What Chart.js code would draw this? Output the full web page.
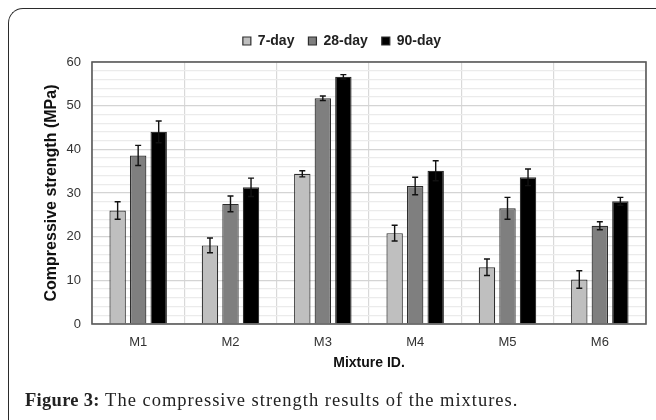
<!DOCTYPE html>
<html>
<head>
<meta charset="utf-8">
<script src="https://cdn.jsdelivr.net/npm/chart.js@4/dist/chart.umd.min.js"></script>
<style>
  html, body { margin: 0; padding: 0; background: #fff; width: 656px; height: 420px; overflow: hidden; }
  #frame { position: absolute; left: 8px; top: 8px; width: 720px; height: 480px;
           border-top: 1.5px solid #2b2b2b; border-left: 1.5px solid #2b2b2b; border-top-left-radius: 15px; }
  #wrap { position: absolute; left: 0; top: 0; width: 656px; height: 420px; }
  #caption { position: absolute; left: 25px; top: 390px; font-family: "Liberation Serif", serif;
             font-size: 18.5px; letter-spacing: 1px; line-height: 20px; color: #222; white-space: nowrap; }
  #caption b { font-weight: bold; letter-spacing: 0.3px; }
</style>
</head>
<body>
<div id="frame"></div>
<div id="wrap"><canvas id="c" width="656" height="420"></canvas></div>
<div id="caption"><b>Figure 3:</b> The compressive strength results of the mixtures.</div>
<script>
const categories = ['M1', 'M2', 'M3', 'M4', 'M5', 'M6'];
const seriesNames = ['7-day', '28-day', '90-day'];
const day7  = [26.0, 18.0, 34.4, 20.8, 13.0, 10.2];
const day28 = [38.6, 27.5, 51.7, 31.6, 26.5, 22.5];
const day90 = [44.0, 31.3, 56.6, 35.1, 33.6, 28.1];
const err7  = [2.0, 1.7, 0.7, 1.8, 1.9, 2.0];
const err28 = [2.3, 1.8, 0.5, 2.0, 2.5, 0.9];
const err90 = [2.5, 2.1, 0.5, 2.3, 1.9, 0.9];
const yTickLabels = [0, 10, 20, 30, 40, 50, 60];

const colors = ['#bfbfbf', '#7f7f7f', '#000000'];
const values = [day7, day28, day90];
const errors = [err7, err28, err90];

const errorBarPlugin = {
  id: 'errorBars',
  afterDatasetsDraw(chart) {
    const ctx = chart.ctx;
    const y = chart.scales.y;
    ctx.save();
    ctx.strokeStyle = '#111';
    ctx.lineWidth = 1.4;
    chart.data.datasets.forEach((ds, di) => {
      const meta = chart.getDatasetMeta(di);
      meta.data.forEach((bar, i) => {
        const v = ds.data[i], e = ds.errors[i];
        const yt = y.getPixelForValue(v + e), yb = y.getPixelForValue(v - e);
        const x = bar.x, cap = 3;
        ctx.beginPath();
        ctx.moveTo(x, yt); ctx.lineTo(x, yb);
        ctx.moveTo(x - cap, yt); ctx.lineTo(x + cap, yt);
        ctx.moveTo(x - cap, yb); ctx.lineTo(x + cap, yb);
        ctx.stroke();
      });
    });
    ctx.restore();
  }
};

const frameBoxPlugin = {
  id: 'frameBox',
  afterDatasetsDraw(chart) {
    const a = chart.chartArea, ctx = chart.ctx;
    ctx.save();
    ctx.strokeStyle = '#5a5a5a';
    ctx.lineWidth = 1.6;
    ctx.strokeRect(a.left, a.top, a.right - a.left, a.bottom - a.top);
    ctx.restore();
  }
};

new Chart(document.getElementById('c'), {
  type: 'bar',
  data: {
    labels: categories,
    datasets: seriesNames.map((n, k) => ({
      label: n,
      data: values[k],
      errors: errors[k],
      backgroundColor: colors[k],
      borderColor: '#2e2e2e',
      borderWidth: 1.2,
      categoryPercentage: 0.667,
      barPercentage: 0.8
    }))
  },
  options: {
    responsive: false,
    animation: false,
    devicePixelRatio: 1,
    layout: { padding: { left: 38, right: 10, top: 20, bottom: 48 } },
    plugins: {
      tooltip: { enabled: false },
      subtitle: { display: true, text: '', weight: 500, padding: 0, font: { size: 4, lineHeight: 1 } },
      legend: {
        position: 'top',
        labels: {
          boxWidth: 8, boxHeight: 8, padding: 14,
          color: '#222',
          font: { family: 'Liberation Sans, Arial', size: 14, weight: 'bold' }
        }
      }
    },
    scales: {
      x: {
        grid: { display: true, offset: true, color: '#d9d9d9', lineWidth: 1.2, drawTicks: false },
        border: { display: false },
        ticks: { color: '#333', padding: 11, font: { family: 'Liberation Sans, Arial', size: 13 } },
        title: { display: true, text: 'Mixture ID.', color: '#111', padding: 0,
                 font: { family: 'Liberation Sans, Arial', size: 14, weight: 'bold' } },
        afterFit(s) { s.height = 48; }
      },
      y: {
        min: 0, max: 60,
        grid: {
          drawTicks: false,
          color: c => (c.tick && yTickLabels.includes(c.tick.value)) ? '#d4d4d4' : '#ebebeb',
          lineWidth: 1.2
        },
        border: { display: false },
        ticks: {
          stepSize: 2, padding: 11, color: '#333', autoSkip: false,
          font: { family: 'Liberation Sans, Arial', size: 13 },
          callback: v => yTickLabels.includes(v) ? String(v) : ''
        },
        title: { display: true, text: 'Compressive strength (MPa)', color: '#111', padding: { top: 4, bottom: 0 },
                 font: { family: 'Liberation Sans, Arial', size: 16, weight: 'bold' } },
        afterFit(s) { s.width = 54; }
      }
    }
  },
  plugins: [errorBarPlugin, frameBoxPlugin]
});
</script>
</body>
</html>
